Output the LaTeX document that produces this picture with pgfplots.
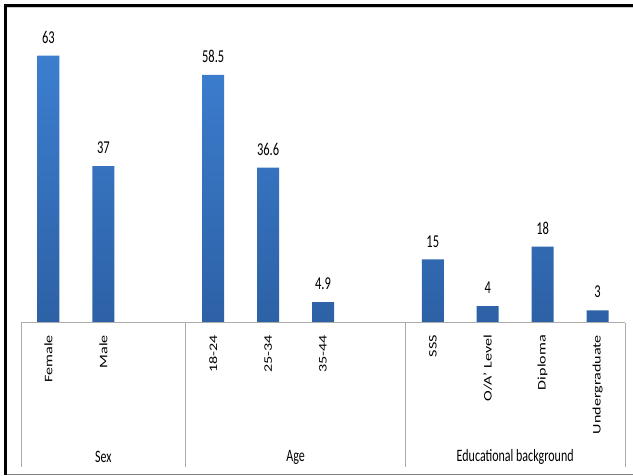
\documentclass[border=0pt]{standalone}
\usepackage{pgfplots}
\pgfplotsset{compat=1.18}
\usepackage{fontspec}
\setmainfont{Carlito}
\usepackage{graphicx}
\definecolor{bartop}{HTML}{3C7ECF}
\definecolor{barbot}{HTML}{2D61A6}
\definecolor{sepgray}{HTML}{ABABAB}
\newcommand\vs[1]{\scalebox{1}[1.45]{#1}}
\newcommand\tl[1]{\scalebox{1.4}[1]{\fontsize{11.5}{13}\selectfont #1}}
\begin{document}
\begin{tikzpicture}[x=1pt,y=1pt]
\path[use as bounding box] (-21,-153) rectangle (612,323);
\begin{axis}[
  at={(0,0)}, anchor=south west,
  scale only axis, width=604pt, height=297pt,
  xmin=-0.5, xmax=10.5, ymin=0, ymax=70,
  hide axis,
  clip=false,
  /pgf/number format/assume math mode=true,
]
\addplot[ybar, bar width=22pt, draw=none, top color=bartop, bottom color=barbot,
  nodes near coords={\vs{\fontsize{12.5}{14}\selectfont\pgfmathprintnumber\pgfplotspointmeta}},
  nodes near coords style={anchor=south, inner sep=0pt, yshift=12pt, text=black}]
  coordinates {(0,63) (1,37) (3,58.5) (4,36.6) (5,4.9) (7,15) (8,4) (9,18) (10,3)};
\draw[sepgray, line width=1pt] (axis cs:-0.5,0) -- (axis cs:10.5,0);
\draw[sepgray, line width=1pt] (axis cs:-0.5,0) -- ([yshift=-144pt]axis cs:-0.5,0);
\draw[sepgray, line width=1pt] (axis cs:2.5,0) -- ([yshift=-144pt]axis cs:2.5,0);
\draw[sepgray, line width=1pt] (axis cs:6.5,0) -- ([yshift=-144pt]axis cs:6.5,0);
\draw[sepgray, line width=1pt] (axis cs:10.5,0) -- ([yshift=-144pt]axis cs:10.5,0);
\node[rotate=90, anchor=east, inner sep=0pt] at ([yshift=-12pt]axis cs:0,0) {\tl{Female}};
\node[rotate=90, anchor=east, inner sep=0pt] at ([yshift=-12pt]axis cs:1,0) {\tl{Male}};
\node[rotate=90, anchor=east, inner sep=0pt] at ([yshift=-12pt]axis cs:3,0) {\tl{18-24}};
\node[rotate=90, anchor=east, inner sep=0pt] at ([yshift=-12pt]axis cs:4,0) {\tl{25-34}};
\node[rotate=90, anchor=east, inner sep=0pt] at ([yshift=-12pt]axis cs:5,0) {\tl{35-44}};
\node[rotate=90, anchor=east, inner sep=0pt] at ([yshift=-12pt]axis cs:7,0) {\tl{SSS}};
\node[rotate=90, anchor=east, inner sep=0pt] at ([yshift=-12pt]axis cs:8,0) {\tl{O/A' Level}};
\node[rotate=90, anchor=east, inner sep=0pt] at ([yshift=-12pt]axis cs:9,0) {\tl{Diploma}};
\node[rotate=90, anchor=east, inner sep=0pt] at ([yshift=-12pt]axis cs:10,0) {\tl{Undergraduate}};
\node[inner sep=0pt] at ([yshift=-134pt]axis cs:1,0) {\vs{\fontsize{12}{14}\selectfont Sex}};
\node[inner sep=0pt] at ([yshift=-134pt]axis cs:4.5,0) {\vs{\fontsize{12}{14}\selectfont Age}};
\node[inner sep=0pt] at ([yshift=-134pt]axis cs:8.5,0) {\vs{\fontsize{12}{14}\selectfont Educational background}};
\end{axis}
\draw[gray, line width=1.5pt] (-17,-151.5) -- (612,-151.5);
\draw[black, line width=2.6pt] (-15.7,-152) -- (-15.7,317.5) -- (612,317.5);
\draw[gray!40, line width=0.8pt] (-14,316) -- (612,316);
\end{tikzpicture}
\end{document}
